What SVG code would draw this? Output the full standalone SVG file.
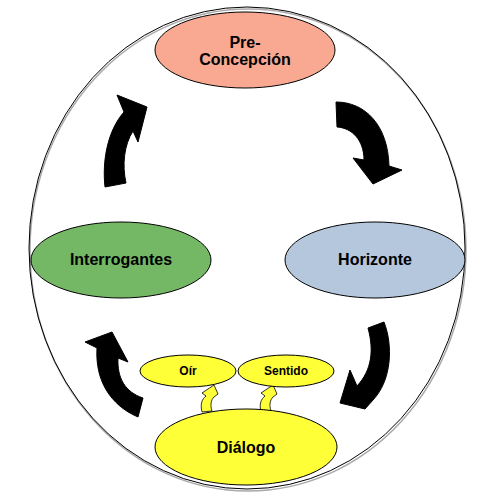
<svg xmlns="http://www.w3.org/2000/svg" width="491" height="500" viewBox="0 0 491 500">
<style>
.node{stroke:#000;stroke-width:1}
.lbl{font-family:"Liberation Sans",Arial,sans-serif;font-weight:bold;fill:#000;text-anchor:middle}
.big{font-size:16px}
.small{font-size:12px}
.blk{fill:#000;stroke:#000;stroke-width:1;stroke-linejoin:miter}
.yel{fill:#ffff38;stroke:#000;stroke-width:0.8}
</style>
<rect width="491" height="500" fill="#fff"/>
<g id="frame">
<ellipse cx="248" cy="250" rx="218" ry="241" fill="none" stroke="#aaa" stroke-width="1.5"/>
<ellipse cx="247" cy="248" rx="218" ry="241" fill="none" stroke="#000" stroke-width="1"/>
</g>
<g id="connectors">
<path class="blk" d="M105,187 C102,160 108,130 124,112 L117,95 L147,107 L138,142 L133,131 C124,145 122,165 126,183 Z"/>
<path class="blk" d="M336,102 C365,102 388,125 389,166 L402,170 L373,184 L353,158 L364,160 C364,140 352,128 337,127 Z"/>
<path class="blk" d="M384,322 C393,345 392,380 373,400 L365,409 L340,403 L350,370 L357,386 C372,370 374,350 368,328 Z"/>
<path class="blk" d="M138,417 C110,405 95,380 97,348 L85,342 L112,332 L128,362 L118,358 C117,378 125,392 143,398 Z"/>
<path class="yel" d="M202,412 C200,404 202,399 206,396 L202,393 L214,385 L218,394 L214,397 C211,400 210,405 212,411 Z"/>
<path class="yel" d="M261,412 C259,404 261,399 265,396 L261,393 L273,385 L277,394 L273,397 C270,400 269,405 271,411 Z"/>
</g>
<g id="preconcepcion">
<ellipse class="node" cx="245" cy="50" rx="90" ry="38" fill="#f9a992"/>
<text class="lbl big" x="245" y="48">Pre-</text>
<text class="lbl big" x="245" y="65">Concepción</text>
</g>
<g id="interrogantes">
<ellipse class="node" cx="121" cy="260" rx="90" ry="38" fill="#74b866"/>
<text class="lbl big" x="121" y="265">Interrogantes</text>
</g>
<g id="horizonte">
<ellipse class="node" cx="375" cy="260" rx="90" ry="38" fill="#b4c7dc"/>
<text class="lbl big" x="375" y="265">Horizonte</text>
</g>
<g id="oir">
<ellipse class="node" cx="188" cy="371" rx="48" ry="16" fill="#ffff38"/>
<text class="lbl small" x="188" y="375">Oír</text>
</g>
<g id="sentido">
<ellipse class="node" cx="286" cy="371" rx="48" ry="16" fill="#ffff38"/>
<text class="lbl small" x="286" y="375">Sentido</text>
</g>
<g id="dialogo">
<ellipse class="node" cx="246" cy="447" rx="91" ry="38" fill="#ffff38"/>
<text class="lbl big" x="246" y="453">Diálogo</text>
</g>
</svg>
